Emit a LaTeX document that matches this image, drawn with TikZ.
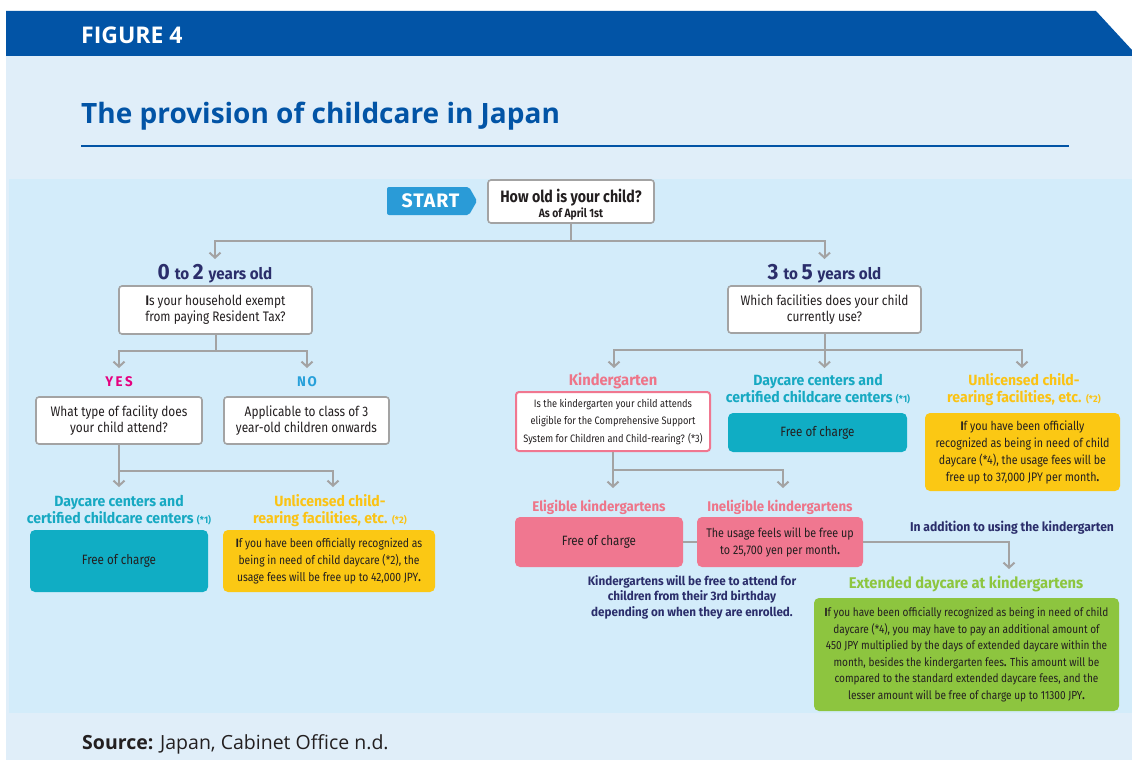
\documentclass[tikz,border=0pt]{standalone}
\usepackage{fontspec}
\setmainfont{Fira Sans}[FakeStretch=0.86]
\newfontfamily\labfont{Fira Sans}[FakeStretch=0.95]
\newfontfamily\wfont{Fira Sans}
\newfontfamily\titlefont{Open Sans}
\newfontfamily\srcfont{Open Sans}
\usetikzlibrary{arrows.meta}
\definecolor{headblue}{HTML}{0254A6}
\definecolor{panelA}{HTML}{E0EEF9}
\definecolor{panelB}{HTML}{D3ECFA}
\definecolor{navy}{HTML}{2B2E6B}
\definecolor{linegray}{HTML}{A3A3A3}
\definecolor{startblue}{HTML}{2A9BD7}
\definecolor{tealL}{HTML}{17A9C2}
\definecolor{tealB}{HTML}{10ADC4}
\definecolor{yelL}{HTML}{FBC314}
\definecolor{yelB}{HTML}{FBC814}
\definecolor{pinkL}{HTML}{EE7589}
\definecolor{pinkB}{HTML}{F07790}
\definecolor{greenL}{HTML}{8DC63F}
\definecolor{greenB}{HTML}{8DC53F}
\definecolor{yesmag}{HTML}{E5007E}
\definecolor{nocyan}{HTML}{27A0DA}
\definecolor{ink}{HTML}{231F20}
\begin{document}
\begin{tikzpicture}[x=1pt,y=-1pt,
  conn/.style={draw=linegray,line width=2pt},
  arr/.style={conn,-{Straight Barb[length=5pt,width=11pt]}},
  qbox/.style={draw=linegray,line width=1.6pt,fill=white,rounded corners=3pt,align=center,inner sep=0pt,text=ink,font=\fontsize{13.8}{16.5}\selectfont},
  cbox/.style={rounded corners=5pt,align=center,inner sep=0pt,text=ink,font=\fontsize{12}{17}\selectfont},
  lab/.style={align=center,inner sep=0pt,font=\labfont\bfseries\fontsize{14.8}{17}\selectfont},
  agelab/.style={inner sep=0pt,text=navy,font=\labfont\bfseries},
  note/.style={align=center,inner sep=0pt,text=navy,font=\labfont\bfseries\fontsize{12.3}{15.5}\selectfont},
]
\useasboundingbox (0,0) rectangle (1132,760);
% background
\fill[white] (0,0) rectangle (1132,760);
\fill[panelA] (6,56) rectangle (1132,760);
\fill[headblue] (6,11) -- (1096,11) -- (1132,50) -- (1132,56) -- (6,56) -- cycle;
\fill[panelB] (9,179) rectangle (1132,713);

% header and title
\node[anchor=west,text=white,inner sep=0pt,font=\titlefont\bfseries\fontsize{23}{23}\selectfont] (fig) at (81,35) {FIGURE 4};
\node[anchor=base west,text=headblue,inner sep=0pt,font=\titlefont\bfseries\fontsize{28}{30}\selectfont] (title) at (81,123) {The provision of childcare in Japan};
\draw[headblue,line width=2.5pt] (81,146) -- (1069,146);

% start
\fill[startblue,rounded corners=2pt] (387,187) -- (469,187) -- (477,201) -- (469,215) -- (387,215) -- cycle;
\node[text=white,font=\wfont\bfseries\fontsize{19.5}{19.5}\selectfont\addfontfeature{LetterSpace=5},inner sep=0pt] (start) at (430.5,201) {START};

\node[qbox,minimum width=166pt,minimum height=43pt,font=\bfseries\fontsize{16.5}{19}\selectfont] (q0) at (571,201.5)
  {\rule{0pt}{19pt}How old is your child?\\[-4pt]{\fontsize{12}{13}\selectfont As of April 1st}};

\coordinate (j0) at (571,241);
\coordinate (t02) at (215,259);
\coordinate (t35) at (824.5,259);
\draw[arr] (q0.south) -- (j0) -| (t02);
\draw[arr] (j0) -| (t35);

% ages
\node[agelab] (age02) at (215,274) {\fontsize{22}{22}\selectfont 0 \fontsize{16}{16}\selectfont to \fontsize{22}{22}\selectfont 2 \fontsize{16}{16}\selectfont years old};
\node[agelab] (age35) at (824.5,274) {\fontsize{22}{22}\selectfont 3 \fontsize{16}{16}\selectfont to \fontsize{22}{22}\selectfont 5 \fontsize{16}{16}\selectfont years old};

% ===== left branch =====
\node[qbox,minimum width=193pt,minimum height=48pt] (qL) at (215.5,310)
  {\textbf{I}s your household exempt\\from paying Resident Tax?};
\coordinate (j1) at (215.5,351);
\coordinate (tY) at (119,368);
\coordinate (tN) at (307,368);
\draw[arr] (qL.south) -- (j1) -| (tY);
\draw[arr] (j1) -| (tN);

\node[inner sep=0pt,text=yesmag,font=\labfont\bfseries\fontsize{14}{14}\selectfont\addfontfeature{LetterSpace=18}] (yes) at (119,382) {YES};
\node[inner sep=0pt,text=nocyan,font=\labfont\bfseries\fontsize{14}{14}\selectfont\addfontfeature{LetterSpace=12}] (no) at (307,382) {NO};

\node[qbox,minimum width=166pt,minimum height=47pt] (qY) at (119,420.5)
  {What type of facility does\\your child attend?};
\node[qbox,minimum width=165pt,minimum height=47pt] (qN) at (306.5,420.5)
  {Applicable to class of 3\\year-old children onwards};

\coordinate (j2) at (119,471);
\coordinate (tLd) at (119,487);
\coordinate (tLu) at (333,487);
\draw[arr] (qY.south) -- (tLd);
\draw[arr] (j2) -| (tLu);

\node[lab,text=tealL] (labLd) at (119,510.5) {Daycare centers and\\certified childcare centers {\fontsize{9.5}{9}\selectfont(*1)}};
\node[lab,text=yelL] (labLu) at (330,510.5) {Unlicensed child-\\rearing facilities, etc. {\fontsize{9.5}{9}\selectfont(*2)}};

\node[cbox,fill=tealB,minimum width=178pt,minimum height=62pt,font=\fontsize{13.5}{17}\selectfont] (tL) at (119,561) {Free of charge};
\node[cbox,fill=yelB,minimum width=212pt,minimum height=62pt] (yL) at (329,561)
  {\textbf{I}f you have been officially recognized as\\being in need of child daycare (*2), the\\usage fees will be free up to 42,000 JPY\textbf{.}};

% ===== right branch =====
\node[qbox,minimum width=193pt,minimum height=47pt] (qR) at (824.5,309.5)
  {Which facilities does your child\\currently use?};
\coordinate (j3) at (824.5,350);
\coordinate (tK) at (614,368);
\coordinate (tD) at (824.5,368);
\coordinate (tU) at (1022,368);
\draw[arr] (qR.south) -- (tD);
\draw[arr] (j3) -| (tK);
\draw[arr] (j3) -| (tU);

\node[lab,text=pinkL,font=\labfont\bfseries\fontsize{15.5}{17}\selectfont] (labK) at (613,381) {Kindergarten};
\node[lab,text=tealL] (labD) at (818,389.5) {Daycare centers and\\certified childcare centers {\fontsize{9.5}{9}\selectfont(*1)}};
\node[lab,text=yelL] (labU) at (1024,389.5) {Unlicensed child-\\rearing facilities, etc. {\fontsize{9.5}{9}\selectfont(*2)}};

\node[qbox,draw=pinkB,line width=2pt,minimum width=194pt,minimum height=59pt,font=\fontsize{10.75}{17.5}\selectfont] (qK) at (613,421.5)
  {Is the kindergarten your child attends\\eligible for the Comprehensive Support\\System for Children and Child-rearing? (*3)};
\node[cbox,fill=tealB,minimum width=179pt,minimum height=39pt,font=\fontsize{13.5}{17}\selectfont] (tR) at (817.5,432.5) {Free of charge};
\node[cbox,fill=yelB,minimum width=195pt,minimum height=78pt,font=\fontsize{12.4}{17}\selectfont] (yR) at (1022.5,452)
  {\textbf{I}f you have been officially\\recognized as being in need of child\\daycare (*4), the usage fees will be\\free up to 37,000 JPY per month\textbf{.}};

\coordinate (j4) at (613,470);
\coordinate (tE) at (613,488);
\coordinate (tI) at (783,488);
\draw[arr] (qK.south) -- (tE);
\draw[arr] (j4) -| (tI);

\node[lab,text=pinkL,font=\labfont\bfseries\fontsize{14}{17}\selectfont] (labE) at (599,507) {Eligible kindergartens};
\node[lab,text=pinkL,font=\labfont\bfseries\fontsize{14}{17}\selectfont] (labI) at (780,507) {Ineligible kindergartens};

\node[cbox,fill=pinkB,minimum width=168pt,minimum height=50pt,font=\fontsize{13.5}{17}\selectfont] (pE) at (599,542) {Free of charge};
\node[cbox,fill=pinkB,minimum width=166pt,minimum height=50pt,font=\fontsize{12.5}{17}\selectfont] (pI) at (780,542)
  {The usage feels will be free up\\to 25,700 yen per month\textbf{.}};
\draw[conn] (pE.east) -- (pI.west);

\coordinate (tX) at (1009,569);
\draw[arr] (pI.east) -| (tX);

\node[note,font=\labfont\bfseries\fontsize{12.8}{15}\selectfont] (addn) at (1012,528) {In addition to using the kindergarten};
\node[lab,text=greenL,font=\labfont\bfseries\fontsize{15.5}{17}\selectfont] (labX) at (966,584) {Extended daycare at kindergartens};
\node[cbox,fill=greenB,minimum width=305pt,minimum height=113pt,font=\fontsize{11.7}{16.5}\selectfont] (gB) at (966.5,654.5)
  {\textbf{I}f you have been officially recognized as being in need of child\\daycare (*4), you may have to pay an additional amount of\\450 JPY multiplied by the days of extended daycare within the\\month, besides the kindergarten fees\textbf{.} This amount will be\\compared to the standard extended daycare fees, and the\\lesser amount will be free of charge up to 11300 JPY\textbf{.}};

\node[note] (kfree) at (692,597) {Kindergartens will be free to attend for\\children from their 3rd birthday\\depending on when they are enrolled.};

% source
\node[anchor=base west,inner sep=0pt,text=ink,font=\srcfont\fontsize{19.5}{21}\selectfont] (src) at (82,749) {\textbf{Source:} Japan, Cabinet Office n.d.};
\end{tikzpicture}
\end{document}
